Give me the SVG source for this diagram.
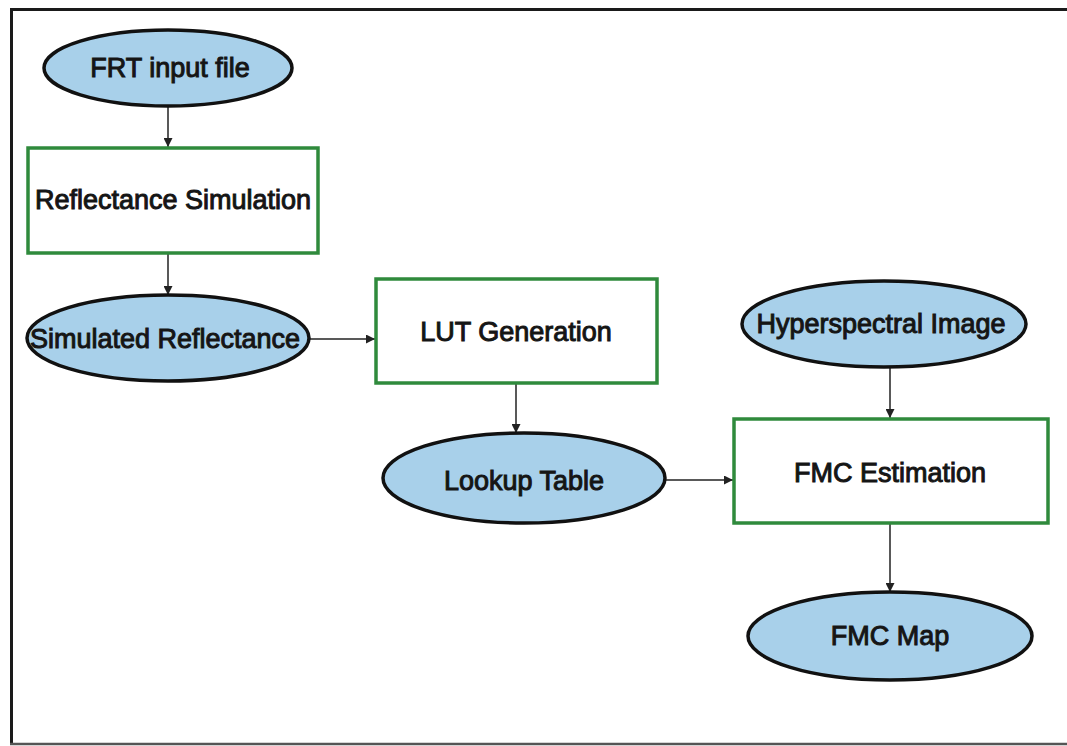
<svg xmlns="http://www.w3.org/2000/svg" width="1067" height="746" viewBox="0 0 1067 746">
  <defs>
    <marker id="arrow" viewBox="0 0 10 10" refX="10" refY="5" markerWidth="9" markerHeight="9" markerUnits="userSpaceOnUse" orient="auto">
      <path d="M0,0 L10,5 L0,10 z" fill="#222"/>
    </marker>
    <style>
      .data { fill: #a8d0ea; stroke: #111; stroke-width: 3.5; }
      .proc { fill: #ffffff; stroke: #2f8a3c; stroke-width: 3.5; }
      .label { font-family: "Liberation Sans", Arial, sans-serif; font-size: 27px; fill: #151515; stroke: #151515; stroke-width: 1; text-anchor: middle; }
      .edge { fill: none; stroke: #222; stroke-width: 1.5; marker-end: url(#arrow); }
    </style>
  </defs>

  <rect x="0" y="0" width="1067" height="746" fill="#ffffff"/>

  <!-- outer frame -->
  <g id="frame" fill="none">
    <line x1="10" y1="9.5" x2="1067" y2="9.5" stroke="#1a1a1a" stroke-width="3"/>
    <line x1="11.5" y1="8" x2="11.5" y2="745" stroke="#1a1a1a" stroke-width="3"/>
    <line x1="10" y1="744" x2="1067" y2="744" stroke="#555" stroke-width="2.5"/>
  </g>

  <!-- connectors -->
  <g id="connectors">
    <line class="edge" x1="168" y1="107" x2="168" y2="147"/>
    <line class="edge" x1="168" y1="253" x2="168" y2="295"/>
    <line class="edge" x1="309" y1="339" x2="375" y2="339"/>
    <line class="edge" x1="516" y1="383" x2="516" y2="433"/>
    <line class="edge" x1="665" y1="480" x2="733" y2="480"/>
    <line class="edge" x1="890" y1="367" x2="890" y2="418"/>
    <line class="edge" x1="890" y1="523" x2="890" y2="592"/>
  </g>

  <g id="frt-input-file">
    <ellipse class="data" cx="168" cy="68" rx="124" ry="38"/>
    <text class="label" x="170" y="77">FRT input file</text>
  </g>

  <g id="reflectance-simulation">
    <rect class="proc" x="28" y="148" width="290" height="105"/>
    <text class="label" x="173" y="209">Reflectance Simulation</text>
  </g>

  <g id="simulated-reflectance">
    <ellipse class="data" cx="168" cy="338" rx="141" ry="43"/>
    <text class="label" x="165" y="348">Simulated Reflectance</text>
  </g>

  <g id="lut-generation">
    <rect class="proc" x="376" y="279" width="281" height="104"/>
    <text class="label" x="516" y="341">LUT Generation</text>
  </g>

  <g id="lookup-table">
    <ellipse class="data" cx="524" cy="478" rx="141" ry="45"/>
    <text class="label" x="524" y="490">Lookup Table</text>
  </g>

  <g id="hyperspectral-image">
    <ellipse class="data" cx="884" cy="324" rx="142" ry="43"/>
    <text class="label" x="881" y="333">Hyperspectral Image</text>
  </g>

  <g id="fmc-estimation">
    <rect class="proc" x="734" y="419" width="314" height="104"/>
    <text class="label" x="890" y="482">FMC Estimation</text>
  </g>

  <g id="fmc-map">
    <ellipse class="data" cx="890" cy="636" rx="142" ry="44"/>
    <text class="label" x="890" y="645">FMC Map</text>
  </g>
</svg>
